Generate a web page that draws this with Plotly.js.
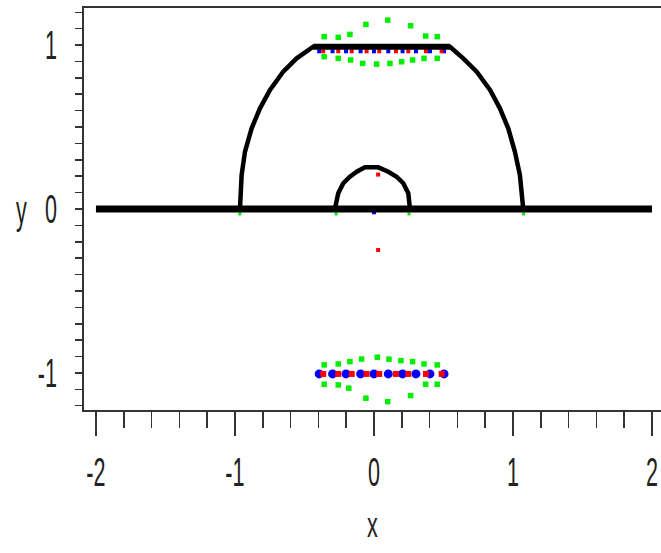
<!DOCTYPE html>
<html>
<head>
<meta charset="utf-8">
<script src="https://cdn.plot.ly/plotly-3.0.1.min.js"></script>
<style>html,body{margin:0;padding:0;background:#fff;}#chart{width:661px;height:553px;}</style>
</head>
<body>
<div id="chart"></div>
<script>
// Black curves
const baseX = [-2, 2];
const baseY = [0, 0];
const bigArcX = [-0.964, -0.952, -0.928, -0.880, -0.820, -0.748, -0.653, -0.556, -0.437, 0.547, 0.642, 0.739, 0.835, 0.906, 0.966, 1.014, 1.050, 1.074];
const bigArcY = [0, 0.207, 0.349, 0.492, 0.614, 0.726, 0.837, 0.919, 0.99, 0.99, 0.919, 0.837, 0.726, 0.614, 0.492, 0.349, 0.207, 0];
const topFlatX = [-0.437, 0.547];
const topFlatY = [0.99, 0.99];
const smallArcX = [-0.281, -0.257, -0.221, -0.173, -0.124, -0.065, 0.031, 0.103, 0.163, 0.211, 0.247, 0.259];
const smallArcY = [0, 0.096, 0.157, 0.197, 0.227, 0.254, 0.254, 0.227, 0.197, 0.157, 0.096, 0];

// Green points around y = 1
const greenUpX = [-0.358, -0.257, -0.173, -0.058, 0.099, 0.264, 0.372, 0.455, -0.358, -0.257, -0.168, -0.081, 0.019, 0.115, 0.199, 0.278, 0.360, 0.455];
const greenUpY = [1.051, 1.047, 1.065, 1.126, 1.152, 1.118, 1.055, 1.051, 0.929, 0.919, 0.909, 0.888, 0.884, 0.888, 0.898, 0.909, 0.919, 0.919];
// Green points around y = -1
const greenLowX = [-0.358, -0.257, -0.173, -0.089, 0.024, 0.108, 0.194, 0.278, 0.360, 0.455, -0.358, -0.257, -0.181, -0.058, 0.099, 0.264, 0.372, 0.455];
const greenLowY = [-0.951, -0.945, -0.931, -0.915, -0.904, -0.916, -0.925, -0.931, -0.945, -0.951, -1.069, -1.073, -1.093, -1.154, -1.175, -1.138, -1.069, -1.069];
// Green points at the arc feet
const greenFootX = [-0.965, -0.272, 0.252, 1.076];
const greenFootY = [-0.03, -0.03, -0.03, -0.03];

// Blue points
const blueRowX = [-0.394, -0.298, -0.201, -0.096, 0.0, 0.103, 0.206, 0.302, 0.403, 0.504];
const blueLowY = [-1.006, -1.006, -1.006, -1.006, -1.006, -1.006, -1.006, -1.006, -1.006, -1.006];
const blueUpY = [0.962, 0.962, 0.962, 0.962, 0.962, 0.962, 0.962, 0.962, 0.962, 0.962];
const blueCenterX = [0.0];
const blueCenterY = [-0.02];

// Red points
const redRowX = [-0.365, -0.257, -0.160, -0.053, 0.038, 0.158, 0.247, 0.374, 0.487];
const redLowY = [-1.006, -1.006, -1.006, -1.006, -1.006, -1.006, -1.006, -1.006, -1.006];
const redUpY = [0.962, 0.962, 0.962, 0.962, 0.962, 0.962, 0.962, 0.962, 0.962];
const redCenterX = [0.03, 0.03];
const redCenterY = [0.21, -0.25];

// Tick labels
const xTickVals = [-2, -1, 0, 1, 2];
const xTickText = ['-2', '-1', '0', '1', '2'];
const yTickVals = [-1, 0, 1];
const yTickText = ['-1', '0', '1'];

const GREEN = '#00ee00', BLUE = '#0000ff', RED = '#ff0000';
function pts(x, y, color, size, symbol) {
  return {x: x, y: y, type: 'scatter', mode: 'markers', hoverinfo: 'skip',
    marker: {color: color, size: size, symbol: symbol, line: {width: 0}}};
}
function line(x, y, w) {
  return {x: x, y: y, type: 'scatter', mode: 'lines', hoverinfo: 'skip',
    line: {color: '#000', width: w}};
}

const data = [
  pts(greenUpX, greenUpY, GREEN, 5.5, 'square'),
  pts(greenLowX, greenLowY, GREEN, 5.5, 'square'),
  pts(greenFootX, greenFootY, GREEN, 3, 'square'),
  pts(blueRowX, blueLowY, BLUE, 9, 'circle'),
  pts(redRowX, redLowY, RED, 6, 'square'),
  pts(blueRowX, blueUpY, BLUE, 4, 'square'),
  pts(redRowX, redUpY, RED, 4, 'square'),
  pts(blueCenterX, blueCenterY, BLUE, 4, 'square'),
  pts(redCenterX, redCenterY, RED, 4, 'square'),
  line(baseX, baseY, 7),
  line(bigArcX, bigArcY, 4.5),
  line(topFlatX, topFlatY, 6),
  line(smallArcX, smallArcY, 4.5)
];

const tickFont = {family: '"Liberation Sans", Arial, sans-serif', size: 30, color: '#222'};

const layout = {
  width: 661, height: 553,
  margin: {l: 84, r: 0, t: 8, b: 143},
  paper_bgcolor: '#fff', plot_bgcolor: '#fff',
  showlegend: false,
  xaxis: {
    range: [-2.086, 2.065], showgrid: false, zeroline: false,
    showline: true, linecolor: '#333', linewidth: 2, mirror: true,
    tickmode: 'array', tickvals: xTickVals, ticktext: xTickText,
    ticks: 'outside', ticklen: 24, tickwidth: 1.5, tickcolor: '#333',
    minor: {dtick: 0.2, tick0: 0, ticks: 'outside', ticklen: 16, tickwidth: 1.5, tickcolor: '#333', showgrid: false},
    tickfont: tickFont, ticklabelstandoff: 10, ticklabeloverflow: 'allow',
    title: {text: 'x', font: tickFont, standoff: 27}
  },
  yaxis: {
    range: [-1.226, 1.226], showgrid: false, zeroline: false,
    showline: true, linecolor: '#333', linewidth: 2, mirror: false,
    tickmode: 'array', tickvals: yTickVals, ticktext: yTickText,
    ticks: 'outside', ticklen: 7, tickwidth: 1.5, tickcolor: '#333',
    minor: {dtick: 0.1, tick0: 0, ticks: 'outside', ticklen: 7, tickwidth: 1.5, tickcolor: '#333', showgrid: false},
    tickfont: tickFont, ticklabelstandoff: 12
  },
  annotations: [{
    text: 'y', xref: 'paper', yref: 'y', x: -0.108, y: 0.0, xanchor: 'center', yanchor: 'middle',
    showarrow: false, font: tickFont
  }]
};

// Make the label text tall and narrow like the original rendering
function squash(sel, sx, sy, anchor) {
  document.querySelectorAll(sel).forEach(function (t) {
    const b = t.getBBox();
    let cx = b.x + b.width / 2;
    if (anchor === 'end') cx = b.x + b.width;
    const cy = b.y + b.height / 2;
    const tr = t.getAttribute('transform') || '';
    t.setAttribute('transform', tr + ' translate(' + cx + ',' + cy + ') scale(' + sx + ',' + sy + ') translate(' + (-cx) + ',' + (-cy) + ')');
  });
}

Plotly.newPlot('chart', data, layout, {staticPlot: true, displayModeBar: false}).then(function () {
  squash('.xtick text', 0.72, 1.35, 'middle');
  squash('.ytick text', 0.72, 1.35, 'end');
  squash('.g-xtitle text', 0.72, 1.2, 'middle');
  squash('.annotation-text', 0.72, 1.35, 'middle');
});
</script>
</body>
</html>
